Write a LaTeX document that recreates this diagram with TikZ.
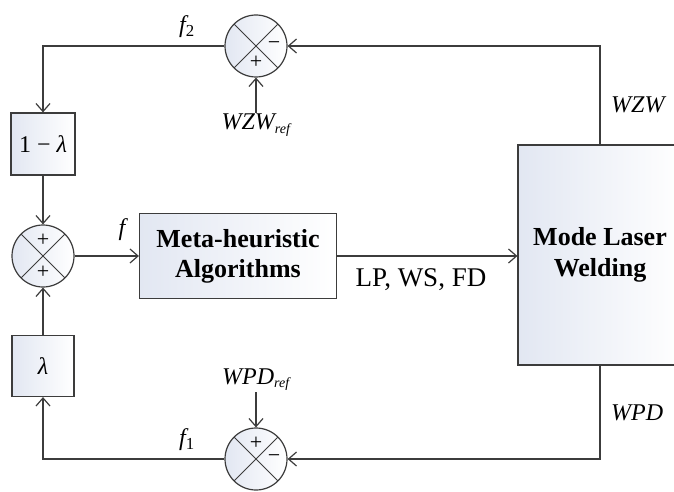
\documentclass[tikz,border=0pt]{standalone}
\usepackage{fontspec}
\setmainfont{Liberation Serif}
\usetikzlibrary{arrows.meta}

\definecolor{boxfill}{RGB}{226,231,242}
\definecolor{linegray}{RGB}{60,60,60}

\tikzset{
  block/.style={draw=linegray, line width=1.2pt, left color=boxfill, right color=white, inner sep=0pt},
  sumnode/.style={circle, draw=linegray, line width=1.2pt, minimum size=62pt, inner sep=0pt,
    left color=boxfill, right color=white,
    path picture={\draw[linegray, line width=0.9pt]
      (path picture bounding box.north west) -- (path picture bounding box.south east)
      (path picture bounding box.north east) -- (path picture bounding box.south west);}},
  sign/.style={font=\fontsize{22}{22}\selectfont, inner sep=0pt},
  lbl/.style={font=\fontsize{24}{26}\selectfont\itshape, inner sep=1pt},
  wire/.style={draw=linegray, line width=1.2pt, -{Straight Barb[length=8pt,width=14pt]}},
}

\begin{document}
\begin{tikzpicture}[x=1pt, y=-1pt]
    \useasboundingbox (0,0) rectangle (674,492);
    \clip (0,0) rectangle (674,492);

    % Draw nodes
    \node[sumnode] (sumtop) at (256,46) {};
    \node[sumnode] (summid) at (43,256) {};
    \node[sumnode] (sumbot) at (256,459) {};
    \node[block, minimum width=64pt, minimum height=62pt, font=\fontsize{24}{26}\selectfont] (gaintop) at (43,144) {1 − \textit{λ}};
    \node[block, minimum width=62pt, minimum height=61pt, font=\fontsize{24}{26}\selectfont] (gainbot) at (43,366) {\textit{λ}};
    \node[block, minimum width=197pt, minimum height=85pt, align=center, font=\fontsize{26}{30}\selectfont\bfseries] (meta) at (238,256) {Meta-heuristic\\Algorithms};
    \node[block, minimum width=164pt, minimum height=220pt, align=center, font=\fontsize{26}{31}\selectfont\bfseries] (weld) at (600,255) {Mode Laser\\Welding};

    % Signs
    \node[sign] (sumtopminus) at ([xshift=18pt]sumtop.center) {−};
    \node[sign] (sumtopplus) at ([yshift=-16pt]sumtop.center) {+};
    \node[sign] (summidplusa) at ([yshift=16pt]summid.center) {+};
    \node[sign] (summidplusb) at ([yshift=-16pt]summid.center) {+};
    \node[sign] (sumbotplus) at ([yshift=16pt]sumbot.center) {+};
    \node[sign] (sumbotminus) at ([xshift=18pt]sumbot.center) {−};

    % Labels
    \node[lbl, anchor=north] (wzwref) at (256,113) {WZW\textsubscript{\fontsize{14}{14}\selectfont ref}};
    \node[lbl, anchor=south] (wpdref) at (256,392) {WPD\textsubscript{\fontsize{14}{14}\selectfont ref}};
    \node[lbl, anchor=west] (wzw) at (610,105) {WZW};
    \node[lbl, anchor=west] (wpd) at (610,413) {WPD};
    \node[lbl] (ftwo) at (187,27) {f\textsubscript{\upshape 2}};
    \node[lbl] (fone) at (187,440) {f\textsubscript{\upshape 1}};
    \node[lbl] (fsum) at (122,230) {f};
    \node[font=\fontsize{27}{28}\selectfont] (lpwsfd) at (421,280) {LP, WS, FD};

    % Draw connections
    \draw[wire] (weld.north) |- (sumtop.east);
    \draw[wire] (sumtop.west) -| (gaintop.north);
    \draw[wire] (wzwref.north) -- (sumtop.south);
    \draw[wire] (gaintop.south) -- (summid.north);
    \draw[wire] (gainbot.north) -- (summid.south);
    \draw[wire] (summid.east) -- (meta.west);
    \draw[wire] (meta.east) -- (meta.east -| weld.west);
    \draw[wire] (weld.south) |- (sumbot.east);
    \draw[wire] (wpdref.south) -- (sumbot.north);
    \draw[wire] (sumbot.west) -| (gainbot.south);
\end{tikzpicture}
\end{document}
